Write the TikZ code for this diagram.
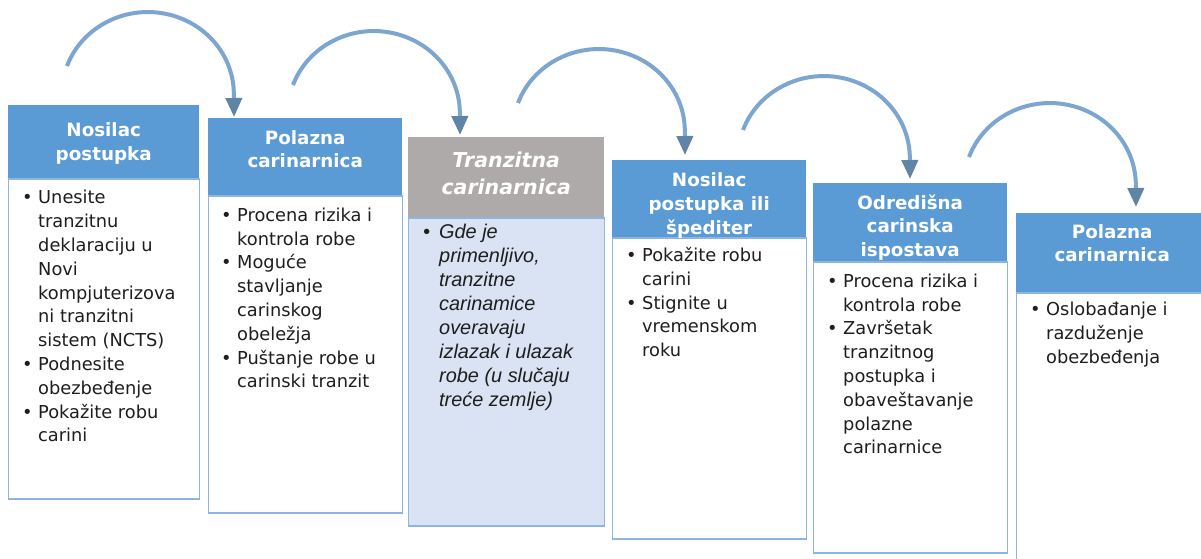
\documentclass[tikz,border=0pt]{standalone}
\usepackage{fontspec}
\setmainfont{DejaVu Sans}
\newfontfamily\arialfont{Liberation Sans}
\usetikzlibrary{arrows.meta}

\definecolor{headblue}{RGB}{91,155,213}
\definecolor{headgray}{RGB}{174,170,170}
\definecolor{lineblue}{RGB}{141,180,226}
\definecolor{paleblue}{RGB}{218,227,243}
\definecolor{arcblue}{RGB}{124,166,207}
\definecolor{tipblue}{RGB}{96,132,166}
\definecolor{textgray}{RGB}{30,30,30}

\tikzset{
  headbox/.style={fill=headblue, anchor=north west, inner sep=0pt},
  bodybox/.style={draw=lineblue, line width=1.2pt, fill=white, anchor=north west, inner sep=0pt},
  headtext/.style={anchor=north, inner sep=0pt, align=center, text=white, font=\bfseries\fontsize{18.3}{23.8}\selectfont},
  listtext/.style={anchor=north west, inner sep=0pt, text=textgray, font=\fontsize{17.8}{23.8}\selectfont},
  flowarrow/.style={draw=arcblue, line width=4pt, -{Triangle[length=19pt,width=16pt,color=tipblue]}}
}

\begin{document}
\begin{tikzpicture}[x=1pt,y=1pt]
    \useasboundingbox (0,0) rectangle (1201,-558);
    \clip (0,0) rectangle (1201,-558);

    %boxes
    \node[headbox, minimum width=191pt, minimum height=73pt] (h1) at (8,-105) {};
    \node[bodybox, minimum width=191pt, minimum height=320pt] (b1) at (h1.south west) {};
    \node[headbox, minimum width=194pt, minimum height=77pt] (h2) at (208,-118) {};
    \node[bodybox, minimum width=194pt, minimum height=317pt] (b2) at (h2.south west) {};
    \node[headbox, fill=headgray, minimum width=196pt, minimum height=80pt] (h3) at (408,-137) {};
    \node[bodybox, fill=paleblue, minimum width=196pt, minimum height=308pt] (b3) at (h3.south west) {};
    \node[headbox, minimum width=194pt, minimum height=77pt] (h4) at (612,-160) {};
    \node[bodybox, minimum width=194pt, minimum height=301pt] (b4) at (h4.south west) {};
    \node[headbox, minimum width=194pt, minimum height=78pt] (h5) at (813,-183) {};
    \node[bodybox, minimum width=194pt, minimum height=291pt] (b5) at (h5.south west) {};
    \node[headbox, minimum width=192pt, minimum height=79pt] (h6) at (1016,-213) {};
    \node[bodybox, minimum width=192pt, minimum height=300pt] (b6) at (h6.south west) {};

    %titles
    \node[headtext] (n1) at ([yshift=-17.7pt]h1.north) {Nosilac\\postupka};
    \node[headtext] (n2) at ([yshift=-12pt]h2.north) {Polazna\\carinarnica};
    \node[headtext, font=\bfseries\itshape\fontsize{20.5}{27}\selectfont] (n3) at ([yshift=-14.7pt]h3.north) {Tranzitna\\carinarnica};
    \node[headtext] (n4) at ([yshift=-12.3pt]h4.north) {Nosilac\\postupka ili\\špediter};
    \node[headtext] (n5) at ([yshift=-11.3pt]h5.north) {Odredišna\\carinska\\ispostava};
    \node[headtext] (n6) at ([yshift=-11pt]h6.north) {Polazna\\carinarnica};

    %lists
    \node[listtext] (l1) at ([xshift=14pt,yshift=-8.6pt]b1.north west) {\begin{tabular}{@{}p{16pt}@{}l@{}}
      \textbullet & Unesite\\
      & tranzitnu\\
      & deklaraciju u\\
      & Novi\\
      & kompjuterizova\\
      & ni tranzitni\\
      & sistem (NCTS)\\
      \textbullet & Podnesite\\
      & obezbeđenje\\
      \textbullet & Pokažite robu\\
      & carini
    \end{tabular}};
    \node[listtext] (l2) at ([xshift=13pt,yshift=-9pt]b2.north west) {\begin{tabular}{@{}p{16pt}@{}l@{}}
      \textbullet & Procena rizika i\\
      & kontrola robe\\
      \textbullet & Moguće\\
      & stavljanje\\
      & carinskog\\
      & obeležja\\
      \textbullet & Puštanje robe u\\
      & carinski tranzit
    \end{tabular}};
    \node[listtext, font=\arialfont\itshape\fontsize{19.9}{24.1}\selectfont] (l3) at ([xshift=15pt,yshift=-3.8pt]b3.north west) {\begin{tabular}{@{}p{16pt}@{}l@{}}
      \textbullet & Gde je\\
      & primenljivo,\\
      & tranzitne\\
      & carinamice\\
      & overavaju\\
      & izlazak i ulazak\\
      & robe (u slučaju\\
      & treće zemlje)
    \end{tabular}};
    \node[listtext] (l4) at ([xshift=14pt,yshift=-7.3pt]b4.north west) {\begin{tabular}{@{}p{16pt}@{}l@{}}
      \textbullet & Pokažite robu\\
      & carini\\
      \textbullet & Stignite u\\
      & vremenskom\\
      & roku
    \end{tabular}};
    \node[listtext] (l5) at ([xshift=14pt,yshift=-9pt]b5.north west) {\begin{tabular}{@{}p{16pt}@{}l@{}}
      \textbullet & Procena rizika i\\
      & kontrola robe\\
      \textbullet & Završetak\\
      & tranzitnog\\
      & postupka i\\
      & obaveštavanje\\
      & polazne\\
      & carinarnice
    \end{tabular}};
    \node[listtext] (l6) at ([xshift=14pt,yshift=-6.3pt]b6.north west) {\begin{tabular}{@{}p{16pt}@{}l@{}}
      \textbullet & Oslobađanje i\\
      & razduženje\\
      & obezbeđenja
    \end{tabular}};

    %arrows
    \coordinate (a1) at (67,-66);
    \coordinate (t1) at (234,-117);
    \coordinate (a2) at (293,-85);
    \coordinate (t2) at (460,-135);
    \coordinate (a3) at (518,-103);
    \coordinate (t3) at (685,-155);
    \coordinate (a4) at (743,-130);
    \coordinate (t4) at (910,-179);
    \coordinate (a5) at (969,-157);
    \coordinate (t5) at (1136,-207);
    \draw[flowarrow] (a1) arc[start angle=160, end angle=0, x radius=86pt, y radius=82pt] -- (t1);
    \draw[flowarrow] (a2) arc[start angle=160, end angle=0, x radius=86pt, y radius=82pt] -- (t2);
    \draw[flowarrow] (a3) arc[start angle=160, end angle=0, x radius=86pt, y radius=82pt] -- (t3);
    \draw[flowarrow] (a4) arc[start angle=160, end angle=0, x radius=86pt, y radius=82pt] -- (t4);
    \draw[flowarrow] (a5) arc[start angle=160, end angle=0, x radius=86pt, y radius=82pt] -- (t5);

\end{tikzpicture}
\end{document}
